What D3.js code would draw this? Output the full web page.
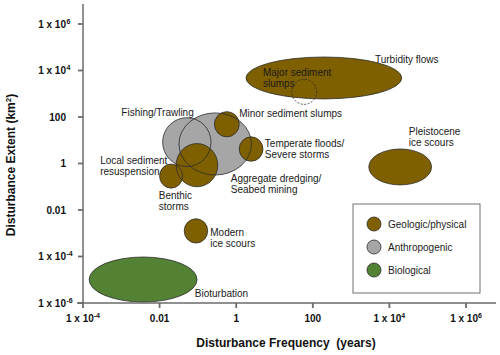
<!DOCTYPE html>
<html><head><meta charset="utf-8">
<script src="https://cdn.jsdelivr.net/npm/d3@7"></script>
<style>body{margin:0;background:#fff}svg{display:block;font-family:"Liberation Sans",Arial,sans-serif}</style>
</head><body>
<svg id="c" width="500" height="355"></svg>
<script>
// Categories (legend)
const categories = ["Geologic/physical", "Anthropogenic", "Biological"];
const categoryColors = ["#7f6000", "#a6a6a6", "#548235"];

// Disturbance ranges: frequency (years) min/max, extent (km²) min/max
const names   = ["Fishing/Trawling","Aggregate dredging","Turbidity flows","Major sediment slumps","Minor sediment slumps","Temperate floods","Benthic storms","Local sediment resuspension","Pleistocene ice scours","Modern ice scours","Bioturbation"];
const cats    = [1,1,0,0,0,0,0,0,0,0,2];
const freqMin = [0.012, 0.032, 1.8,   28,   0.27, 1.2,  0.027, 0.010, 2900,   0.044,   0.000145];
const freqMax = [0.22,  2.5,   21000, 126,  1.2,  5.0,  0.33,  0.040, 126000, 0.18,    0.095];
const extMin  = [0.74,  0.32,  600,   350,  14,   1.25, 0.10,  0.087, 0.12,   0.00038, 1.1e-6];
const extMax  = [93,    150,   38000, 4200, 170,  14,   7.2,   0.95,  4.2,    0.0042,  9.5e-5];
const dashed  = [false,false,false,true,false,false,false,false,false,false,false];

// Annotation labels (anchored in data units)
const labelText = [["Turbidity flows"],["Major sediment","slumps"],["Minor sediment slumps"],["Fishing/Trawling"],["Temperate floods/","Severe storms"],["Pleistocene","ice scours"],["Local sediment","resuspension"],["Aggregate dredging/","Seabed mining"],["Benthic","storms"],["Modern","ice scours"],["Bioturbation"]];
const labelX = [4200, 5, 1.2, 0.001, 5.6, 32000, 0.00028, 0.72, 0.0095, 0.21, 0.083];
const labelY = [21000, 5800, 100, 110, 5.1, 17, 0.95, 0.16, 0.03, 0.00076, 1.8e-6];

// Tick labels
const xTicks = [1e-4, 0.01, 1, 100, 1e4, 1e6];
const xTickBase = ["1 x 10", "0.01", "1", "100", "1 x 10", "1 x 10"];
const xTickSup  = ["-4", "", "", "", "4", "6"];
const yTicks = [1e6, 1e4, 100, 1, 0.01, 1e-4, 1e-6];
const yTickBase = ["1 x 10","1 x 10","100","1","0.01","1 x 10","1 x 10"];
const yTickSup  = ["6","4","","","","-4","-6"];

const svg = d3.select("#c");
const x = d3.scaleLog().domain([1e-4, 1e6]).range([83, 466]);
const y = d3.scaleLog().domain([1e-6, 1e6]).range([303, 24]);

const items = names.map((n,i)=>({n, c:cats[i], x0:freqMin[i], x1:freqMax[i], y0:extMin[i], y1:extMax[i], dash:dashed[i]}));
const geo = d => ({cx:(x(d.x0)+x(d.x1))/2, cy:(y(d.y0)+y(d.y1))/2, rx:Math.abs(x(d.x1)-x(d.x0))/2, ry:Math.abs(y(d.y0)-y(d.y1))/2});

// draw order: grey first, then green, then brown
const order = [1,2,0];
const sorted = items.slice().sort((a,b)=>order.indexOf(a.c)-order.indexOf(b.c));
const fills = svg.append("g");
fills.selectAll("ellipse").data(sorted.filter(d=>!d.dash)).join("ellipse")
  .each(function(d){const g=geo(d); d3.select(this).attr("cx",g.cx).attr("cy",g.cy).attr("rx",g.rx).attr("ry",g.ry);})
  .attr("fill", d=>categoryColors[d.c]);
const strokes = svg.append("g");
strokes.selectAll("ellipse").data(sorted).join("ellipse")
  .each(function(d){const g=geo(d); d3.select(this).attr("cx",g.cx).attr("cy",g.cy).attr("rx",g.rx).attr("ry",g.ry);})
  .attr("fill","none").attr("stroke","#2b2b2b").attr("stroke-width",0.8)
  .attr("stroke-dasharray", d=>d.dash?"2,1.5":null);

// labels
const lab = svg.append("g").attr("font-size",10).attr("fill","#1a1a1a");
labelText.forEach((lines,i)=>{
  const t = lab.append("text").attr("x", x(labelX[i])).attr("y", y(labelY[i]));
  lines.forEach((s,j)=>t.append("tspan").attr("x", x(labelX[i])).attr("dy", j?11:0).text(s));
});

// axes
const axCol = "#6b6b6b";
svg.append("line").attr("x1",83).attr("x2",83).attr("y1",4).attr("y2",y(1e-6)).attr("stroke",axCol).attr("stroke-width",1.5);
svg.append("line").attr("x1",77).attr("x2",496).attr("y1",y(1e-6)).attr("y2",y(1e-6)).attr("stroke",axCol).attr("stroke-width",1.5);
const yt = svg.append("g").attr("font-size",10).attr("font-weight","bold").attr("fill","#111");
yTicks.forEach((v,i)=>{
  svg.append("line").attr("x1",78).attr("x2",83).attr("y1",y(v)).attr("y2",y(v)).attr("stroke",axCol).attr("stroke-width",1.8);
  yt.append("text").attr("x",66).attr("y",y(v)+3.5).attr("text-anchor","end").text(yTickBase[i]);
  if (yTickSup[i]) yt.append("text").attr("x",66.5).attr("y",y(v)-0.5).attr("font-size",7).text(yTickSup[i]);
});
const xt = svg.append("g").attr("font-size",10).attr("font-weight","bold").attr("fill","#111");
xTicks.forEach((v,i)=>{
  svg.append("line").attr("x1",x(v)).attr("x2",x(v)).attr("y1",y(1e-6)).attr("y2",y(1e-6)+5).attr("stroke",axCol).attr("stroke-width",1.8);
  const t = xt.append("text").attr("x",x(v)).attr("y",322).attr("text-anchor","middle");
  t.append("tspan").text(xTickBase[i]);
  if (xTickSup[i]) t.append("tspan").attr("font-size",7).attr("dy",-4).text(xTickSup[i]);
});
svg.append("text").attr("x",286).attr("y",347).attr("text-anchor","middle").attr("font-size",12).attr("font-weight","bold").attr("fill","#111")
  .text("Disturbance Frequency\u00a0 (years)");
const yl = svg.append("text").attr("transform","translate(15,165) rotate(-90)").attr("text-anchor","middle").attr("font-size",12).attr("font-weight","bold").attr("fill","#111");
yl.append("tspan").text("Disturbance Extent (km");
yl.append("tspan").attr("font-size",8).attr("dy",-4).text("2");
yl.append("tspan").attr("dy",4).text(")");

// legend
const lg = svg.append("g");
lg.append("rect").attr("x",353).attr("y",204).attr("width",127).attr("height",89).attr("fill","#fff").attr("stroke","#707070").attr("stroke-width",1);
categories.forEach((c,i)=>{
  lg.append("circle").attr("cx",374).attr("cy",224+i*23).attr("r",7).attr("fill",categoryColors[i]).attr("stroke","#2b2b2b").attr("stroke-width",0.8);
  lg.append("text").attr("x",388).attr("y",228+i*23).attr("font-size",10).attr("fill","#1a1a1a").text(c);
});
</script>
</body></html>
